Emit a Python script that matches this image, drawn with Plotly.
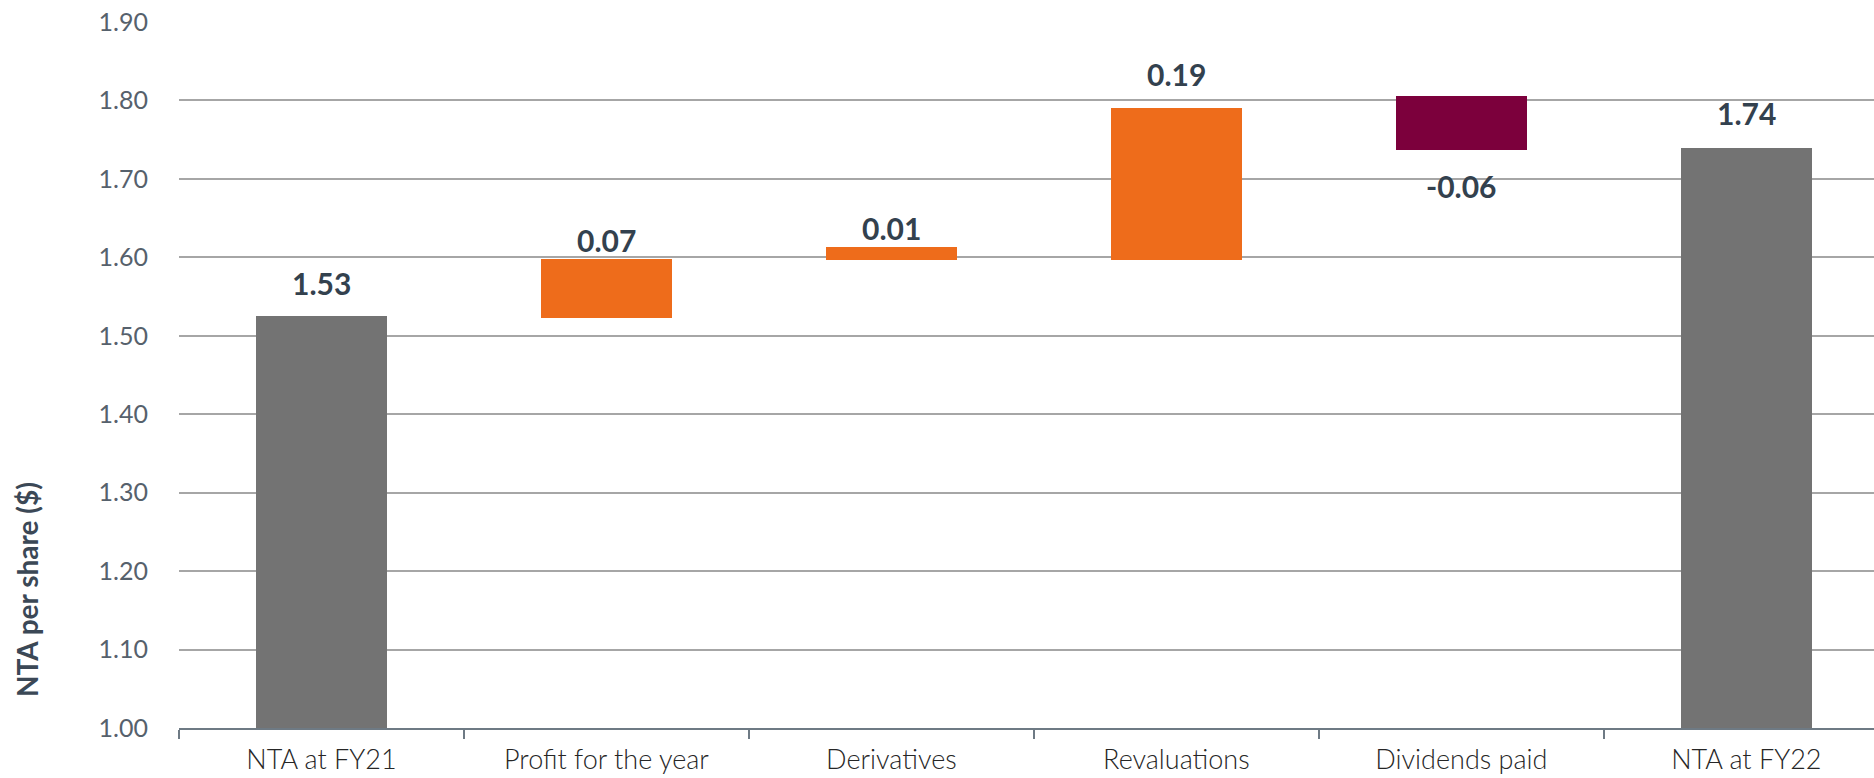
import plotly.graph_objects as go

# ---- data ----
categories = ["NTA at FY21", "Profit for the year", "Derivatives",
              "Revaluations", "Dividends paid", "NTA at FY22"]
bar_start = [1.00, 1.523, 1.596, 1.596, 1.806, 1.00]
bar_end = [1.525, 1.598, 1.613, 1.791, 1.737, 1.740]
bar_kind = ["total", "increase", "increase", "increase", "decrease", "total"]
value_labels = ["1.53", "0.07", "0.01", "0.19", "-0.06", "1.74"]
y_ticks = [1.00, 1.10, 1.20, 1.30, 1.40, 1.50, 1.60, 1.70, 1.80, 1.90]

# ---- style ----
kind_colors = {"total": "#737373", "increase": "#EE6C1B", "decrease": "#7C003C"}
label_gap_px = [20, 6, 6.5, 21, 23.5, 22]

heights = [e - s for s, e in zip(bar_start, bar_end)]
colors = [kind_colors[k] for k in bar_kind]

fig = go.Figure()
fig.add_trace(go.Bar(
    x=categories, y=heights, base=bar_start, width=0.46,
    marker=dict(color=colors, line=dict(width=0)),
    hoverinfo="skip", showlegend=False,
))

annotations = []
for cat, s, e, lab, gap in zip(categories, bar_start, bar_end, value_labels, label_gap_px):
    up = e >= s
    annotations.append(dict(
        x=cat, y=e, xref="x", yref="y", text=lab, showarrow=False,
        yanchor="bottom" if up else "top",
        yshift=(gap - 7) if up else -(gap - 7),
        font=dict(family="Lato", size=30, color="#33414E", weight="bold"),
    ))

annotations.append(dict(
    x=-0.09, y=0.196, xref="paper", yref="paper", text="NTA per share ($)",
    textangle=-90, showarrow=False, xanchor="center", yanchor="middle",
    font=dict(family="Lato", size=28, color="#3B4856", weight="bold"),
))

fig.update_layout(
    width=1874, height=778,
    margin=dict(l=179, r=0, t=22, b=50),
    paper_bgcolor="white", plot_bgcolor="white",
    annotations=annotations,
    bargap=0,
)
fig.update_yaxes(
    range=[1.0, 1.9], tickvals=y_ticks, tickformat=".2f",
    showgrid=True, gridcolor="#A6A6A6", gridwidth=1.5,
    zeroline=False, showline=False, ticks="",
    ticklabelstandoff=30,
    tickfont=dict(family="Lato", size=25, color="#56616C"),
)
fig.update_xaxes(
    range=[-0.5, 5.448], showgrid=False,
    showline=True, linecolor="#6E7A84", linewidth=1.5,
    ticks="outside", tickson="boundaries", ticklen=9, tickwidth=1.5, tickcolor="#6E7A84",
    ticklabelstandoff=7,
    tickfont=dict(family="Lato", size=27, color="#262626", weight=300),
)

fig.write_html("out.html")
